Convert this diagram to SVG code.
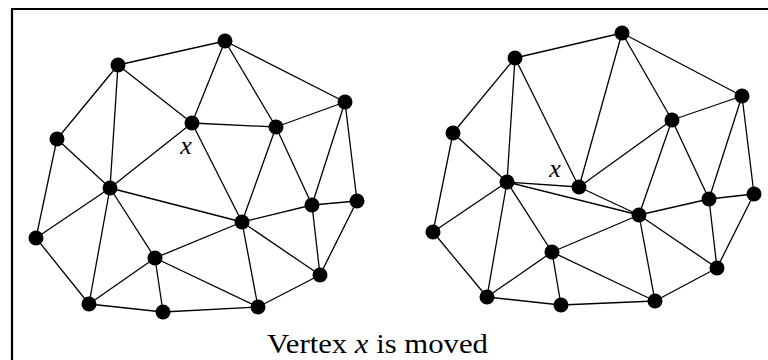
<svg xmlns="http://www.w3.org/2000/svg" width="768" height="360" viewBox="0 0 768 360">
<style>
.e{stroke:#000;stroke-width:1.3;fill:none;stroke-linecap:round}
.v{fill:#000}
</style>
<rect width="768" height="360" fill="#fff"/>
<path d="M12,360 V9 H768" stroke="#000" stroke-width="2.2" fill="none"/>
<g id="connectors" class="e">
<path d="M118,65L225,41M118,65L57,139M118,65L110,188M118,65L192,123M225,41L192,123M225,41L276,127M225,41L345,102M345,102L276,127M345,102L312,205M345,102L357,201M192,123L276,127M192,123L110,188M192,123L242,222M276,127L242,222M276,127L312,205M57,139L110,188M57,139L36,238M110,188L36,238M110,188L89,304M110,188L155,258M110,188L242,222M36,238L89,304M155,258L89,304M155,258L163,312M155,258L242,222M155,258L258,307M89,304L163,312M163,312L258,307M242,222L312,205M242,222L320,275M242,222L258,307M312,205L357,201M312,205L320,275M357,201L320,275M320,275L258,307"/>
<path d="M515,58L622,33M515,58L453,133M515,58L507,182M515,58L579,187M622,33L579,187M622,33L672,120M622,33L742,96M742,96L672,120M742,96L709,199M742,96L754,194M579,187L672,120M579,187L507,182M579,187L639,215M507,182L639,215M672,120L639,215M672,120L709,199M453,133L507,182M453,133L433,232M507,182L433,232M507,182L487,297M507,182L552,252M433,232L487,297M552,252L487,297M552,252L561,305M552,252L639,215M552,252L655,301M487,297L561,305M561,305L655,301M639,215L709,199M639,215L717,268M639,215L655,301M709,199L754,194M709,199L717,268M754,194L717,268M717,268L655,301"/>
</g>
<g id="left-graph" class="v">
<circle id="lA" cx="118" cy="65" r="7.5"/>
<circle id="lB" cx="225" cy="41" r="7.5"/>
<circle id="lC" cx="345" cy="102" r="7.5"/>
<circle id="lX" cx="192" cy="123" r="7.5"/>
<circle id="lD" cx="276" cy="127" r="7.5"/>
<circle id="lE" cx="57" cy="139" r="7.5"/>
<circle id="lF" cx="110" cy="188" r="7.5"/>
<circle id="lG" cx="36" cy="238" r="7.5"/>
<circle id="lH" cx="155" cy="258" r="7.5"/>
<circle id="lI" cx="89" cy="304" r="7.5"/>
<circle id="lJ" cx="163" cy="312" r="7.5"/>
<circle id="lK" cx="242" cy="222" r="7.5"/>
<circle id="lL" cx="312" cy="205" r="7.5"/>
<circle id="lM" cx="357" cy="201" r="7.5"/>
<circle id="lN" cx="320" cy="275" r="7.5"/>
<circle id="lO" cx="258" cy="307" r="7.5"/>
</g>
<g id="right-graph" class="v">
<circle id="ra" cx="515" cy="58" r="7.5"/>
<circle id="rb" cx="622" cy="33" r="7.5"/>
<circle id="rc" cx="742" cy="96" r="7.5"/>
<circle id="rd" cx="672" cy="120" r="7.5"/>
<circle id="re" cx="453" cy="133" r="7.5"/>
<circle id="rf" cx="507" cy="182" r="7.5"/>
<circle id="rx" cx="579" cy="187" r="7.5"/>
<circle id="rg" cx="433" cy="232" r="7.5"/>
<circle id="rh" cx="552" cy="252" r="7.5"/>
<circle id="ri" cx="487" cy="297" r="7.5"/>
<circle id="rj" cx="561" cy="305" r="7.5"/>
<circle id="rk" cx="639" cy="215" r="7.5"/>
<circle id="rl" cx="709" cy="199" r="7.5"/>
<circle id="rm" cx="754" cy="194" r="7.5"/>
<circle id="rn" cx="717" cy="268" r="7.5"/>
<circle id="ro" cx="655" cy="301" r="7.5"/>
</g>
<g id="labels" font-family="'Liberation Serif', 'DejaVu Serif', 'Times New Roman', serif" fill="#000">
<text x="186" y="154" text-anchor="middle" font-size="26" font-style="italic">x</text>
<text x="555" y="177" text-anchor="middle" font-size="26" font-style="italic">x</text>
<text x="267" y="353" font-size="27" textLength="221" lengthAdjust="spacingAndGlyphs">Vertex <tspan font-style="italic">x</tspan> is moved</text>
</g>
</svg>
